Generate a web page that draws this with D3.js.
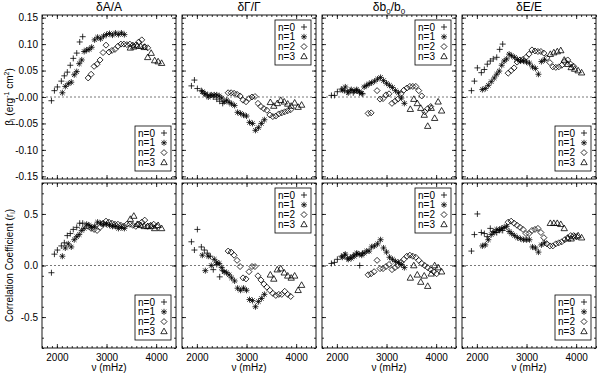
<!DOCTYPE html>
<html>
<head>
<meta charset="utf-8">
<script src="https://cdn.jsdelivr.net/npm/d3@7"></script>
<style>
  body { margin: 0; background: #fff; }
  text { font-family: "Liberation Sans", Arial, sans-serif; fill: #000; }
</style>
</head>
<body>
<div id="chart"></div>
<script>
// mode frequencies (mHz axis label as in the original) for each radial order
const freqN0 = [1890, 1950, 2010, 2090, 2150, 2210, 2270, 2330, 2400, 2460, 2520];
const freqN1 = [2110, 2170, 2230, 2290, 2350, 2400, 2450, 2500, 2550, 2600, 2650, 2700, 2760, 2820, 2880, 2940, 3000, 3060, 3120, 3180, 3240, 3300, 3360];
const freqN2 = [2630, 2690, 2750, 2810, 2870, 2930, 2990, 3050, 3110, 3170, 3230, 3290, 3350, 3410, 3470, 3530, 3590, 3650, 3710, 3770, 3830, 3890, 3950, 4010];
const freqN3 = [3480, 3550, 3620, 3690, 3760, 3830, 3900, 3970, 4040, 4110];

// beta_i, dA/A
const betaA_n0 = [-0.007, 0.012, 0.019, 0.030, 0.040, 0.047, 0.060, 0.073, 0.083, 0.104, 0.114];
const betaA_n1 = [0.008, 0.020, 0.025, 0.028, 0.042, 0.048, 0.063, 0.070, 0.086, 0.089, 0.090, 0.094, 0.108, 0.113, 0.110, 0.115, 0.118, 0.120, 0.117, 0.121, 0.118, 0.121, 0.118];
const betaA_n2 = [0.036, 0.043, 0.058, 0.062, 0.070, 0.084, 0.098, 0.085, 0.088, 0.090, 0.096, 0.100, 0.100, 0.099, 0.100, 0.098, 0.098, 0.104, 0.108, 0.095, 0.093, null, null, null];
const betaA_n3 = [0.093, 0.095, 0.097, 0.096, 0.094, 0.075, 0.083, 0.069, 0.067, 0.064];
// beta_i, dGamma/Gamma
const betaG_n0 = [0.021, 0.032, 0.016, 0.012, 0.006, 0.004, 0.003, 0.000, -0.004, -0.008, -0.012];
const betaG_n1 = [0.010, 0.006, 0.000, 0.004, 0.004, 0.004, 0.002, -0.002, -0.009, -0.006, -0.010, -0.013, -0.016, -0.029, -0.031, -0.034, -0.036, -0.048, -0.050, -0.063, -0.058, -0.050, -0.043];
const betaG_n2 = [0.008, 0.008, 0.007, 0.005, 0.002, -0.006, -0.009, -0.003, 0.000, 0.001, -0.012, -0.018, -0.022, -0.025, -0.034, -0.037, -0.036, -0.032, -0.030, -0.028, -0.026, -0.024, null, null];
const betaG_n3 = [-0.010, -0.017, -0.012, -0.006, -0.009, -0.013, -0.017, -0.011, -0.019, -0.015];
// beta_i, db0/b0
const betaB_n0 = [0.003, 0.003, 0.010, 0.015, 0.012, 0.010, 0.012, 0.008, 0.012, 0.008, 0.006];
const betaB_n1 = [0.013, 0.019, 0.008, 0.014, 0.011, 0.014, 0.010, 0.007, 0.019, 0.022, 0.025, 0.027, 0.030, 0.034, 0.037, 0.031, 0.026, 0.022, 0.018, 0.012, 0.008, -0.002, -0.012];
const betaB_n2 = [-0.031, -0.030, null, 0.012, -0.004, -0.003, 0.004, 0.006, -0.012, -0.008, -0.004, 0.006, 0.013, 0.017, 0.020, 0.020, 0.020, 0.012, 0.002, -0.028, -0.022, -0.018, null, null];
const betaB_n3 = [-0.023, -0.004, -0.012, -0.021, -0.034, -0.055, -0.021, -0.040, -0.009, -0.026];
// beta_i, dE/E
const betaE_n0 = [0.012, 0.030, 0.055, 0.046, 0.052, 0.062, 0.068, 0.072, 0.075, 0.090, 0.100];
const betaE_n1 = [0.014, 0.016, 0.022, 0.029, 0.036, 0.043, 0.049, 0.060, 0.068, 0.072, 0.081, 0.078, 0.075, 0.071, 0.068, 0.068, 0.066, 0.064, 0.057, 0.054, 0.043, 0.067, 0.070];
const betaE_n2 = [0.045, 0.050, 0.055, 0.066, 0.070, 0.071, 0.075, 0.081, 0.089, 0.087, 0.086, 0.086, 0.083, 0.074, 0.065, 0.057, 0.056, 0.057, 0.060, 0.067, 0.070, 0.062, 0.058, null];
const betaE_n3 = [0.081, 0.084, 0.086, 0.088, 0.070, 0.062, 0.056, 0.053, 0.050, 0.046];

// correlation coefficients r_i
const corrA_n0 = [-0.07, 0.11, 0.15, 0.19, 0.22, 0.29, 0.31, 0.35, 0.37, 0.41, 0.41];
const corrA_n1 = [0.09, 0.17, 0.21, 0.18, 0.25, 0.28, 0.30, 0.34, 0.36, 0.40, 0.39, 0.37, 0.38, 0.42, 0.41, 0.40, 0.40, 0.39, 0.38, 0.38, 0.36, 0.37, 0.36];
const corrA_n2 = [0.38, 0.36, 0.35, 0.34, 0.37, 0.41, 0.43, 0.42, 0.41, 0.40, 0.40, 0.39, 0.38, 0.40, 0.40, 0.39, 0.38, 0.40, 0.42, 0.44, 0.38, 0.39, 0.40, 0.38];
const corrA_n3 = [0.45, 0.48, 0.40, 0.39, 0.38, 0.38, 0.38, 0.36, 0.39, 0.36];
const corrG_n0 = [0.23, 0.15, 0.35, 0.18, 0.15, 0.12, 0.09, -0.04, 0.01, -0.11, -0.05];
const corrG_n1 = [0.10, -0.05, 0.09, 0.00, 0.06, 0.03, 0.02, -0.02, -0.06, -0.07, -0.09, -0.12, -0.15, -0.22, -0.24, -0.22, -0.24, -0.33, -0.34, -0.40, -0.35, -0.32, -0.28];
const corrG_n2 = [0.14, 0.13, 0.10, 0.05, -0.01, -0.12, -0.13, -0.06, -0.01, -0.01, -0.10, -0.14, -0.18, -0.21, -0.24, -0.27, -0.29, -0.28, -0.28, -0.25, -0.28, -0.30, null, null];
const corrG_n3 = [-0.09, -0.13, -0.04, -0.03, -0.07, -0.10, -0.12, -0.10, -0.24, -0.19];
const corrB_n0 = [0.02, 0.03, 0.06, 0.09, 0.10, 0.07, 0.08, 0.10, 0.11, 0.00, 0.12];
const corrB_n1 = [0.08, 0.11, 0.06, 0.07, 0.09, 0.12, 0.11, 0.10, 0.12, 0.14, 0.14, 0.18, 0.19, 0.21, 0.25, 0.17, 0.13, 0.08, 0.06, 0.04, 0.03, 0.01, -0.02];
const corrB_n2 = [-0.09, -0.08, -0.06, 0.05, -0.03, -0.03, -0.01, 0.01, -0.04, -0.02, 0.00, 0.03, 0.06, 0.09, 0.10, 0.09, 0.08, 0.05, 0.02, 0.00, -0.02, -0.04, -0.06, -0.08];
const corrB_n3 = [-0.12, 0.00, -0.09, -0.16, -0.10, -0.20, -0.08, 0.00, -0.02, -0.06];
const corrE_n0 = [0.14, 0.30, 0.50, 0.32, 0.31, 0.28, 0.36, 0.33, 0.32, 0.35, 0.34];
const corrE_n1 = [0.19, 0.20, 0.25, 0.30, 0.32, 0.35, 0.34, 0.36, 0.37, 0.38, 0.33, 0.31, 0.29, 0.27, 0.26, 0.25, 0.25, 0.25, 0.18, 0.17, 0.13, 0.20, 0.22];
const corrE_n2 = [0.42, 0.43, 0.41, 0.39, 0.37, 0.35, 0.31, 0.31, 0.34, 0.35, 0.36, 0.32, 0.27, 0.21, 0.19, 0.19, 0.21, 0.22, 0.23, 0.25, 0.27, 0.29, 0.29, 0.28];
const corrE_n3 = [0.41, 0.41, 0.41, 0.40, 0.36, 0.26, 0.26, 0.28, 0.29, 0.27];

const legendLabels = ["n=0", "n=1", "n=2", "n=3"];
const xTicks = [2000, 3000, 4000];
const xTickLabels = ["2000", "3000", "4000"];
const yTicksBeta = [-0.15, -0.10, -0.05, 0, 0.05, 0.10, 0.15];
const yTickLabelsBeta = ["-0.15", "-0.10", "-0.05", "-0.00", "0.05", "0.10", "0.15"];
const yTicksCorr = [-0.5, 0, 0.5];
const yTickLabelsCorr = ["-0.5", "0.0", "0.5"];

const freqs = [freqN0, freqN1, freqN2, freqN3];

const svg = d3.select("#chart").append("svg")
  .attr("width", 600)
  .attr("height", 375);

const colLeft = [42, 182, 322, 462];
const panelW = 134;
const xDomain = [1700, 4400];

const rows = [
  { top: 15, bottom: 179, domain: [-0.155, 0.155], ticks: yTicksBeta, labels: yTickLabelsBeta, minor: d3.range(-0.15, 0.1551, 0.01) },
  { top: 183, bottom: 348, domain: [-0.8, 0.8], ticks: yTicksCorr, labels: yTickLabelsCorr, minor: d3.range(-0.8, 0.801, 0.1) }
];

// symbols: + , * , diamond, triangle (IDL psym 1,2,4,5)
const symbols = [
  "M-3,0H3M0,-3V3",
  "M-3,0H3M0,-3V3M-2.2,-2.2L2.2,2.2M-2.2,2.2L2.2,-2.2",
  "M0,-3L3,0L0,3L-3,0Z",
  "M0,-3.3L3.2,2.3L-3.2,2.3Z"
];

const panels = [
  { row: 0, col: 0, legendTop: false, series: [betaA_n0, betaA_n1, betaA_n2, betaA_n3] },
  { row: 0, col: 1, legendTop: true,  series: [betaG_n0, betaG_n1, betaG_n2, betaG_n3] },
  { row: 0, col: 2, legendTop: true,  series: [betaB_n0, betaB_n1, betaB_n2, betaB_n3] },
  { row: 0, col: 3, legendTop: false, series: [betaE_n0, betaE_n1, betaE_n2, betaE_n3] },
  { row: 1, col: 0, legendTop: false, series: [corrA_n0, corrA_n1, corrA_n2, corrA_n3] },
  { row: 1, col: 1, legendTop: true,  series: [corrG_n0, corrG_n1, corrG_n2, corrG_n3] },
  { row: 1, col: 2, legendTop: true,  series: [corrB_n0, corrB_n1, corrB_n2, corrB_n3] },
  { row: 1, col: 3, legendTop: false, series: [corrE_n0, corrE_n1, corrE_n2, corrE_n3] }
];

function styleAxis(a) {
  a.select(".domain").remove();
  a.attr("font-family", null).attr("font-size", null);
  a.selectAll("text").attr("font-size", 10);
  a.selectAll("line").attr("stroke", "#000").attr("stroke-width", 0.8);
}

function drawPanel(p) {
  const r = rows[p.row];
  const x0 = colLeft[p.col];
  const x = d3.scaleLinear().domain(xDomain).range([x0, x0 + panelW]);
  const y = d3.scaleLinear().domain(r.domain).range([r.bottom, r.top]);
  const g = svg.append("g");

  // zero line
  g.append("line")
    .attr("x1", x0).attr("x2", x0 + panelW)
    .attr("y1", y(0)).attr("y2", y(0))
    .attr("stroke", "#555")
    .attr("stroke-width", 0.8)
    .attr("stroke-dasharray", "2,2");

  const xMinor = d3.range(1700, 4401, 100);
  const showY = p.col === 0;
  const showX = p.row === 1;

  // ticks on all four sides, pointing inward
  g.append("g").attr("transform", `translate(${x0},0)`)
    .call(d3.axisLeft(y).tickValues(r.ticks).tickSize(-4).tickSizeOuter(0).tickPadding(4)
      .tickFormat((d, i) => showY ? r.labels[i] : ""))
    .call(styleAxis);
  g.append("g").attr("transform", `translate(${x0},0)`)
    .call(d3.axisLeft(y).tickValues(r.minor).tickSize(-2).tickSizeOuter(0).tickFormat(""))
    .call(styleAxis);
  g.append("g").attr("transform", `translate(${x0 + panelW},0)`)
    .call(d3.axisRight(y).tickValues(r.ticks).tickSize(-4).tickSizeOuter(0).tickFormat(""))
    .call(styleAxis);
  g.append("g").attr("transform", `translate(${x0 + panelW},0)`)
    .call(d3.axisRight(y).tickValues(r.minor).tickSize(-2).tickSizeOuter(0).tickFormat(""))
    .call(styleAxis);
  g.append("g").attr("transform", `translate(0,${r.bottom})`)
    .call(d3.axisBottom(x).tickValues(xTicks).tickSize(-4).tickSizeOuter(0).tickPadding(6)
      .tickFormat((d, i) => showX ? xTickLabels[i] : ""))
    .call(styleAxis);
  g.append("g").attr("transform", `translate(0,${r.bottom})`)
    .call(d3.axisBottom(x).tickValues(xMinor).tickSize(-2).tickSizeOuter(0).tickFormat(""))
    .call(styleAxis);
  g.append("g").attr("transform", `translate(0,${r.top})`)
    .call(d3.axisTop(x).tickValues(xTicks).tickSize(-4).tickSizeOuter(0).tickFormat(""))
    .call(styleAxis);
  g.append("g").attr("transform", `translate(0,${r.top})`)
    .call(d3.axisTop(x).tickValues(xMinor).tickSize(-2).tickSizeOuter(0).tickFormat(""))
    .call(styleAxis);

  // frame
  g.append("rect")
    .attr("x", x0).attr("y", r.top)
    .attr("width", panelW).attr("height", r.bottom - r.top)
    .attr("fill", "none")
    .attr("stroke", "#000")
    .attr("stroke-width", 0.9);

  // points
  p.series.forEach((vals, n) => {
    const pts = freqs[n].map((f, i) => ({ f: f, v: vals[i] })).filter(d => d.v != null);
    g.selectAll(null)
      .data(pts)
      .enter()
      .append("path")
      .attr("d", symbols[n])
      .attr("transform", d => `translate(${x(d.f)},${y(d.v)})`)
      .attr("fill", "none")
      .attr("stroke", "#000")
      .attr("stroke-width", 0.8);
  });

  // legend
  const lw = 36, lh = 45;
  const lx = x0 + panelW - 5 - lw;
  const ly = p.legendTop ? r.top + 5 : r.bottom - 8 - lh;
  g.append("rect")
    .attr("x", lx).attr("y", ly)
    .attr("width", lw).attr("height", lh)
    .attr("fill", "#fff")
    .attr("stroke", "#000")
    .attr("stroke-width", 0.8);
  legendLabels.forEach((t, i) => {
    g.append("text")
      .attr("x", lx + 3)
      .attr("y", ly + 10.5 + i * 9.8)
      .attr("font-size", 10)
      .text(t);
    g.append("path")
      .attr("d", symbols[i])
      .attr("transform", `translate(${lx + 29},${ly + 7 + i * 9.8})`)
      .attr("fill", "none")
      .attr("stroke", "#000")
      .attr("stroke-width", 0.8);
  });
}

panels.forEach(drawPanel);

// column titles
const titles = svg.append("g").attr("font-size", 12).attr("text-anchor", "middle");
const titleY = 11;
titles.append("text").attr("x", colLeft[0] + panelW / 2).attr("y", titleY).text("δA/A");
titles.append("text").attr("x", colLeft[1] + panelW / 2).attr("y", titleY).text("δΓ/Γ");
const tb = titles.append("text").attr("x", colLeft[2] + panelW / 2).attr("y", titleY);
tb.append("tspan").text("δb");
tb.append("tspan").attr("font-size", 8).attr("dy", 3).text("0");
tb.append("tspan").attr("dy", -3).text("/b");
tb.append("tspan").attr("font-size", 8).attr("dy", 3).text("0");
titles.append("text").attr("x", colLeft[3] + panelW / 2).attr("y", titleY).text("δE/E");

// y axis titles
const yl1 = svg.append("text")
  .attr("transform", `translate(13,${(rows[0].top + rows[0].bottom) / 2}) rotate(-90)`)
  .attr("text-anchor", "middle")
  .attr("font-size", 10);
yl1.append("tspan").text("β");
yl1.append("tspan").attr("font-size", 7).attr("dy", 2).text("i");
yl1.append("tspan").attr("dy", -2).text(" (erg");
yl1.append("tspan").attr("font-size", 7).attr("dy", -4).text("-1");
yl1.append("tspan").attr("dy", 4).text(" cm");
yl1.append("tspan").attr("font-size", 7).attr("dy", -4).text("2");
yl1.append("tspan").attr("dy", 4).text(")");

const yl2 = svg.append("text")
  .attr("transform", `translate(13,${(rows[1].top + rows[1].bottom) / 2}) rotate(-90)`)
  .attr("text-anchor", "middle")
  .attr("font-size", 10);
yl2.append("tspan").text("Correlation Coefficient (r");
yl2.append("tspan").attr("font-size", 7).attr("dy", 2).text("i");
yl2.append("tspan").attr("dy", -2).text(")");

// x axis titles
colLeft.forEach(c => {
  svg.append("text")
    .attr("x", c + panelW / 2)
    .attr("y", 371)
    .attr("text-anchor", "middle")
    .attr("font-size", 10)
    .text("ν (mHz)");
});
</script>
</body>
</html>
